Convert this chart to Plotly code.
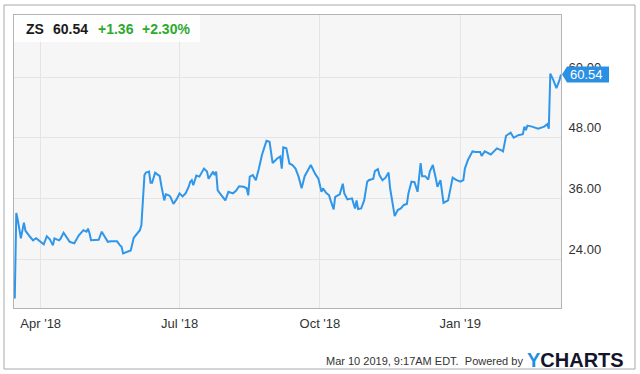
import plotly.graph_objects as go

dates = [
"2018-03-15","2018-03-16","2018-03-17","2018-03-19","2018-03-21","2018-03-22","2018-03-25","2018-03-27","2018-03-29","2018-04-01",
"2018-04-03","2018-04-05","2018-04-07","2018-04-09","2018-04-10","2018-04-13","2018-04-14","2018-04-16","2018-04-18","2018-04-20",
"2018-04-23","2018-04-26","2018-04-29","2018-05-01","2018-05-02","2018-05-03","2018-05-04","2018-05-07","2018-05-09","2018-05-11",
"2018-05-13","2018-05-15","2018-05-17","2018-05-21","2018-05-23","2018-05-24","2018-05-25","2018-05-27","2018-05-30","2018-06-01",
"2018-06-03","2018-06-05","2018-06-06","2018-06-07","2018-06-08","2018-06-09","2018-06-11","2018-06-12","2018-06-13","2018-06-15",
"2018-06-16","2018-06-18","2018-06-19","2018-06-21","2018-06-22","2018-06-24","2018-06-25","2018-06-27","2018-06-29","2018-07-01",
"2018-07-03","2018-07-05","2018-07-07","2018-07-08","2018-07-09","2018-07-10","2018-07-12","2018-07-14","2018-07-17","2018-07-19",
"2018-07-20","2018-07-23","2018-07-24","2018-07-25","2018-07-26","2018-07-28","2018-07-31","2018-08-02","2018-08-05","2018-08-07",
"2018-08-09","2018-08-12","2018-08-14","2018-08-15","2018-08-16","2018-08-18","2018-08-20","2018-08-22","2018-08-24","2018-08-26",
"2018-08-27","2018-08-29","2018-08-31","2018-09-03","2018-09-05","2018-09-06","2018-09-07","2018-09-09","2018-09-11","2018-09-13",
"2018-09-15","2018-09-17","2018-09-19","2018-09-21","2018-09-25","2018-09-28","2018-09-30","2018-10-02","2018-10-03","2018-10-05",
"2018-10-07","2018-10-08","2018-10-10","2018-10-11","2018-10-14","2018-10-16","2018-10-17","2018-10-19","2018-10-22","2018-10-24",
"2018-10-25","2018-10-26","2018-10-28","2018-10-30","2018-11-01","2018-11-02","2018-11-05","2018-11-06","2018-11-08","2018-11-09",
"2018-11-11","2018-11-13","2018-11-15","2018-11-16","2018-11-18","2018-11-19","2018-11-21","2018-11-23","2018-11-25","2018-11-27",
"2018-11-28","2018-11-30","2018-12-02","2018-12-04","2018-12-06","2018-12-07","2018-12-09","2018-12-11","2018-12-12","2018-12-14",
"2018-12-16","2018-12-17","2018-12-19","2018-12-21","2018-12-24","2018-12-27","2018-12-29","2019-01-01","2019-01-03","2019-01-04",
"2019-01-06","2019-01-09","2019-01-11","2019-01-14","2019-01-15","2019-01-17","2019-01-21","2019-01-25","2019-01-28","2019-01-29",
"2019-01-31","2019-02-03","2019-02-05","2019-02-08","2019-02-11","2019-02-12","2019-02-13","2019-02-14","2019-02-17","2019-02-21",
"2019-02-25","2019-02-27","2019-02-28","2019-03-01","2019-03-03","2019-03-05","2019-03-07","2019-03-08"]

prices = [
16.2, 33.1, 31.7, 28.1, 31.2, 29.6, 28.4, 27.7, 28.1, 27.4,
26.9, 28.5, 27.9, 26.7, 28.1, 27.7, 28.0, 29.2, 28.4, 27.4,
27.1, 28.7, 29.7, 29.4, 30.0, 29.1, 27.7, 27.7, 27.8, 29.4,
28.4, 27.4, 27.5, 27.5, 26.7, 26.4, 25.1, 25.4, 25.7, 28.2,
29.0, 29.7, 30.7, 36.3, 40.6, 41.1, 41.3, 39.1, 39.1, 41.1,
40.9, 40.4, 38.6, 35.6, 36.8, 36.6, 36.3, 34.9, 35.8, 37.0,
36.4, 37.0, 38.3, 39.3, 39.6, 38.6, 40.5, 40.3, 41.9, 41.3,
39.9, 41.3, 40.6, 41.3, 37.6, 36.8, 35.6, 37.3, 37.0, 37.5,
38.4, 38.3, 38.0, 36.6, 40.3, 40.6, 39.6, 41.9, 44.6, 46.5,
47.4, 47.2, 43.0, 43.9, 44.3, 41.9, 46.1, 45.9, 42.9, 42.6,
41.9, 40.3, 38.0, 40.4, 42.6, 40.8, 39.9, 37.3, 38.0, 37.1,
36.6, 35.6, 33.8, 36.3, 36.8, 38.9, 37.0, 35.8, 36.0, 34.0,
35.6, 33.9, 34.0, 35.6, 39.3, 39.6, 39.9, 41.4, 41.8, 40.6,
39.6, 40.1, 41.1, 38.0, 34.3, 32.5, 33.7, 34.0, 34.7, 34.9,
37.0, 39.3, 39.2, 37.3, 43.0, 40.4, 40.4, 39.7, 41.3, 42.6,
39.9, 38.3, 39.6, 35.1, 35.6, 40.1, 39.7, 39.3, 39.6, 41.9,
43.6, 45.3, 45.2, 45.2, 44.4, 45.3, 44.7, 45.9, 45.5, 45.3,
48.4, 49.0, 48.0, 48.5, 48.7, 50.2, 49.5, 50.4, 50.2, 49.8,
50.2, 50.7, 49.8, 60.7, 59.4, 57.8, 59.4, 60.54]

x_tick_vals = ["2018-04-01", "2018-07-01", "2018-10-01", "2019-01-01"]
x_tick_text = ["Apr '18", "Jul '18", "Oct '18", "Jan '19"]
y_tick_vals = [24, 36, 48, 60]

ticker = "ZS"
last_price = "60.54"
change = "+1.36"
change_pct = "+2.30%"
timestamp = "Mar 10 2019, 9:17AM EDT.  Powered by"

LINE = "#2f96ea"
GREEN = "#2eaa2e"
FONT = "Liberation Sans, Arial, sans-serif"

fig = go.Figure()
fig.add_trace(go.Scatter(x=dates, y=prices, mode="lines",
                         line=dict(color=LINE, width=2), hoverinfo="skip"))

fig.update_layout(
    width=640, height=374,
    margin=dict(l=14, r=79, t=15, b=66),
    paper_bgcolor="white",
    plot_bgcolor="#f6f6f6",
    showlegend=False,
    font=dict(family=FONT, color="#333333"),
    xaxis=dict(
        type="date",
        range=["2018-03-14 12:00", "2019-03-08"],
        tickvals=x_tick_vals, ticktext=x_tick_text,
        showgrid=True, gridcolor="#e4e4e4", gridwidth=1,
        showline=True, linecolor="#b4b4b4", linewidth=1, mirror=True,
        ticks="", tickfont=dict(size=13, color="#333333"),
        ticklabelstandoff=3, zeroline=False,
    ),
    yaxis=dict(
        range=[14.3, 72.3], side="right",
        tickvals=y_tick_vals, tickformat=".2f",
        showgrid=True, gridcolor="#e4e4e4", gridwidth=1,
        showline=True, linecolor="#b4b4b4", linewidth=1, mirror=True,
        ticks="", tickfont=dict(size=13, color="#333333"),
        ticklabelstandoff=4, ticklabelshift=-10, zeroline=False,
    ),
)

# outer frame
fig.add_shape(type="rect", xref="paper", yref="paper",
              x0=-0.01828, x1=1.1353, y0=-0.2082, y1=1.0341,
              line=dict(color="#a8a8a8", width=1), fillcolor="rgba(0,0,0,0)", layer="below")
# header box
fig.add_shape(type="rect", xref="paper", yref="paper",
              x0=0, x1=0.34, y0=0.908, y1=1.0,
              line=dict(width=0), fillcolor="rgba(255,255,255,0.85)", layer="above")

hy = 0.952
fig.add_annotation(xref="paper", yref="paper", x=0.018, y=hy, xanchor="left", yanchor="middle",
                   text=f"<b>{ticker}</b>", showarrow=False, font=dict(size=14, color="#1a1a1a"))
fig.add_annotation(xref="paper", yref="paper", x=0.067, y=hy, xanchor="left", yanchor="middle",
                   text=f"<b>{last_price}</b>", showarrow=False, font=dict(size=14, color="#1a1a1a"))
fig.add_annotation(xref="paper", yref="paper", x=0.149, y=hy, xanchor="left", yanchor="middle",
                   text=f"<b>{change}</b>", showarrow=False, font=dict(size=14, color=GREEN))
fig.add_annotation(xref="paper", yref="paper", x=0.230, y=hy, xanchor="left", yanchor="middle",
                   text=f"<b>{change_pct}</b>", showarrow=False, font=dict(size=14, color=GREEN))

# price tag
fig.add_shape(type="path", xref="paper", yref="y", xsizemode="pixel", ysizemode="pixel",
              xanchor=1, yanchor=prices[-1],
              path="M 1 0 L 6 8 L 48 8 L 48 -8 L 6 -8 Z",
              fillcolor="#2b8fe3", line=dict(width=0), layer="above")
fig.add_annotation(xref="paper", yref="y", x=1, y=prices[-1], xanchor="left", yanchor="middle",
                   xshift=7, text=last_price, showarrow=False,
                   font=dict(size=13, color="white"))

# footer
fig.add_annotation(xref="paper", yref="paper", x=0.935, y=-0.181, xanchor="right", yanchor="middle",
                   text=timestamp, showarrow=False, font=dict(size=11, color="#333333"))
fig.add_annotation(xref="paper", yref="paper", x=1.119, y=-0.177, xanchor="right", yanchor="middle",
                   text="<b><span style='color:#1e8fe1'>Y</span>CHARTS</b>", showarrow=False,
                   font=dict(size=20, color="#14142b"))

fig.write_html("out.html", config={"displayModeBar": False},
               post_script="document.body.style.margin='0';document.body.style.padding='0';")
